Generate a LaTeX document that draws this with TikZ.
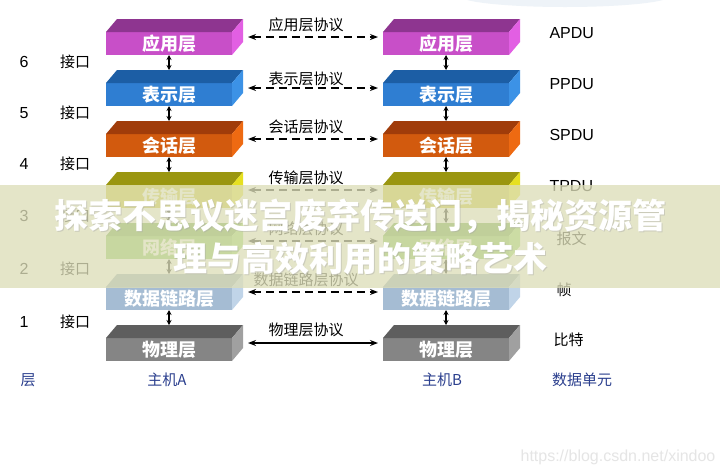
\documentclass[tikz,border=0pt]{standalone}
\usepackage{fontspec}
\setmainfont{Liberation Sans}
\newfontfamily\cjk{Noto Sans CJK SC}
\usepackage{tikz}
\usetikzlibrary{positioning}
\usetikzlibrary{arrows.meta,shapes,calc}
\usepackage{xcolor}

\definecolor{appfront}{HTML}{C84FC8}
\definecolor{apptop}{HTML}{8E3590}
\definecolor{appside}{HTML}{E25FE3}
\definecolor{presfront}{HTML}{2F7ED2}
\definecolor{prestop}{HTML}{1C5EA5}
\definecolor{presside}{HTML}{3C92E6}
\definecolor{sessfront}{HTML}{D25A0E}
\definecolor{sesstop}{HTML}{A03C0A}
\definecolor{sessside}{HTML}{EE6A12}
\definecolor{transfront}{HTML}{C8C21E}
\definecolor{transtop}{HTML}{9A9610}
\definecolor{transside}{HTML}{E6E020}
\definecolor{netfront}{HTML}{7CC24A}
\definecolor{nettop}{HTML}{5A9A30}
\definecolor{netside}{HTML}{90D85A}
\definecolor{dlfront}{HTML}{A5BCD3}
\definecolor{dltop}{HTML}{8FA3B6}
\definecolor{dlside}{HTML}{C0D4E8}
\definecolor{physfront}{HTML}{858585}
\definecolor{phystop}{HTML}{5E5E5E}
\definecolor{physside}{HTML}{A0A0A0}
\definecolor{footblue}{HTML}{2B3F8E}
\definecolor{banner}{HTML}{DDDEB9}
\definecolor{glow}{HTML}{EEF3F8}

\tikzset{
  layer/.style={minimum width=126pt, minimum height=23pt, inner sep=0pt, outer sep=0pt,
    text=white, font=\cjk\bfseries\fontsize{18}{18}\selectfont},
  iface/.style={{Stealth[length=5pt,width=5pt]}-{Stealth[length=5pt,width=5pt]}, line width=1.3pt},
  protoline/.style={{Stealth[length=8pt,width=6pt]}-{Stealth[length=8pt,width=6pt]}, line width=1.6pt},
  proto/.style={protoline, dash pattern=on 8pt off 5pt},
  plabel/.style={font=\cjk\fontsize{15}{15}\selectfont},
  num/.style={font=\fontsize{16}{16}\selectfont},
  pdu/.style={anchor=west, font=\fontsize{16}{16}\selectfont},
  foot/.style={text=footblue, font=\cjk\fontsize{15}{15}\selectfont},
  title/.style={text=white, font=\cjk\bfseries\fontsize{34}{34}\selectfont},
  wmark/.style={text=black!10, font=\fontsize{16}{16}\selectfont}
}

\newcommand\layerbox[7]{%
  \node[layer, fill=#4] (#1) at (#2,#3) {#7};
  \fill[#5] (#1.north west) -- ++(11,-13) -- ([shift={(11pt,13pt)}]#1.north east) -- (#1.north east) -- cycle;
  \fill[#6] (#1.north east) -- ++(11,-13) -- ([shift={(11pt,13pt)}]#1.south east) -- (#1.south east) -- cycle;
}

\begin{document}
\begin{tikzpicture}[x=1pt,y=-1pt]
\useasboundingbox (0,0) rectangle (720,475);
\fill[white] (0,0) rectangle (720,475);
\fill[glow] (565,-4) ellipse (105 and 11);

\layerbox{appA}{169}{43.5}{appfront}{apptop}{appside}{应用层}
\layerbox{presA}{169}{94.5}{presfront}{prestop}{presside}{表示层}
\layerbox{sessA}{169}{145.5}{sessfront}{sesstop}{sessside}{会话层}
\layerbox{transA}{169}{196.5}{transfront}{transtop}{transside}{传输层}
\layerbox{netA}{169}{247.5}{netfront}{nettop}{netside}{网络层}
\layerbox{dlA}{169}{298.5}{dlfront}{dltop}{dlside}{数据链路层}
\layerbox{physA}{169}{349.5}{physfront}{phystop}{physside}{物理层}

\layerbox{appB}{446}{43.5}{appfront}{apptop}{appside}{应用层}
\layerbox{presB}{446}{94.5}{presfront}{prestop}{presside}{表示层}
\layerbox{sessB}{446}{145.5}{sessfront}{sesstop}{sessside}{会话层}
\layerbox{transB}{446}{196.5}{transfront}{transtop}{transside}{传输层}
\layerbox{netB}{446}{247.5}{netfront}{nettop}{netside}{网络层}
\layerbox{dlB}{446}{298.5}{dlfront}{dltop}{dlside}{数据链路层}
\layerbox{physB}{446}{349.5}{physfront}{phystop}{physside}{物理层}

\draw[iface] (appA.south) -- ([yshift=13pt]presA.north);
\draw[iface] (presA.south) -- ([yshift=13pt]sessA.north);
\draw[iface] (sessA.south) -- ([yshift=13pt]transA.north);
\draw[iface] (transA.south) -- ([yshift=13pt]netA.north);
\draw[iface] (netA.south) -- ([yshift=13pt]dlA.north);
\draw[iface] (dlA.south) -- ([yshift=13pt]physA.north);

\draw[iface] (appB.south) -- ([yshift=13pt]presB.north);
\draw[iface] (presB.south) -- ([yshift=13pt]sessB.north);
\draw[iface] (sessB.south) -- ([yshift=13pt]transB.north);
\draw[iface] (transB.south) -- ([yshift=13pt]netB.north);
\draw[iface] (netB.south) -- ([yshift=13pt]dlB.north);
\draw[iface] (dlB.south) -- ([yshift=13pt]physB.north);

\draw[proto] ([shift={(16pt,6.5pt)}]appA.east) -- ([shift={(-5pt,6.5pt)}]appB.west);
\draw[proto] ([shift={(16pt,6.5pt)}]presA.east) -- ([shift={(-5pt,6.5pt)}]presB.west);
\draw[proto] ([shift={(16pt,6.5pt)}]sessA.east) -- ([shift={(-5pt,6.5pt)}]sessB.west);
\draw[proto] ([shift={(16pt,6.5pt)}]transA.east) -- ([shift={(-5pt,6.5pt)}]transB.west);
\draw[proto] ([shift={(16pt,6.5pt)}]netA.east) -- ([shift={(-5pt,6.5pt)}]netB.west);
\draw[proto] ([shift={(16pt,6.5pt)}]dlA.east) -- ([shift={(-5pt,6.5pt)}]dlB.west);
\draw[protoline] ([shift={(16pt,6.5pt)}]physA.east) -- ([shift={(-5pt,6.5pt)}]physB.west);

\node[plabel] (protApp) at (306,25) {应用层协议};
\node[plabel] (protPres) at (306,79) {表示层协议};
\node[plabel] (protSess) at (306,127) {会话层协议};
\node[plabel] (protTrans) at (306,178) {传输层协议};
\node[plabel] (protNet) at (306,229) {网络层协议};
\node[plabel] (protDl) at (306,280) {数据链路层协议};
\node[plabel] (protPhys) at (306,330) {物理层协议};

\node[num] (n6) at (24,62) {6};
\node[num] (n5) at (24,113) {5};
\node[num] (n4) at (24,164) {4};
\node[num] (n3) at (24,216) {3};
\node[num] (n2) at (24,269) {2};
\node[num] (n1) at (24,322) {1};
\node[plabel] (if6) at (75,62) {接口};
\node[plabel] (if5) at (75,113) {接口};
\node[plabel] (if4) at (75,164) {接口};
\node[plabel] (if3) at (75,216) {接口};
\node[plabel] (if2) at (75,269) {接口};
\node[plabel] (if1) at (75,322) {接口};

\node[pdu] (pduApp) at (546,33) {APDU};
\node[pdu] (pduPres) at (546,84) {PPDU};
\node[pdu] (pduSess) at (546,135) {SPDU};
\node[pdu] (pduTrans) at (546,186) {TPDU};
\node[pdu, font=\cjk\fontsize{15}{15}\selectfont] (pduNet) at (553,239) {报文};
\node[pdu, font=\cjk\fontsize{15}{15}\selectfont] (pduDl) at (553,290) {帧};
\node[pdu, font=\cjk\fontsize{15}{15}\selectfont] (pduPhys) at (550,340) {比特};

\node[foot] (colLayer) at (28,380) {层};
\node[foot] (colHostA) at (167,380) {主机A};
\node[foot] (colHostB) at (442,380) {主机B};
\node[foot] (colPdu) at (582,380) {数据单元};

\fill[banner, opacity=0.78] (0,185) rectangle (720,288);
\node[title, text=black!35, opacity=0.4] at (361,217) {探索不思议迷宫废弃传送门，揭秘资源管};
\node[title, text=black!35, opacity=0.4] at (361,260) {理与高效利用的策略艺术};
\node[title] (title1) at (360,216) {探索不思议迷宫废弃传送门，揭秘资源管};
\node[title] (title2) at (360,259) {理与高效利用的策略艺术};

\node[wmark] (site) at (618,457) {https://blog.csdn.net/xindoo};
\end{tikzpicture}
\end{document}
